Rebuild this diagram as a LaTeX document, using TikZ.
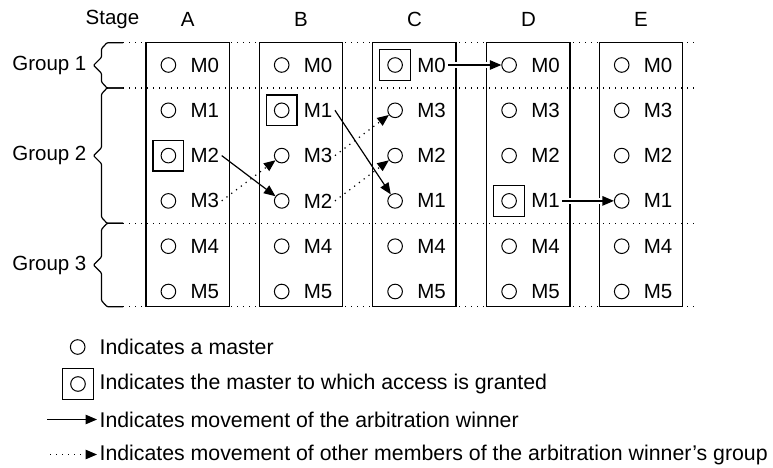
\documentclass[tikz,border=0pt]{standalone}
\usepackage{fontspec}
\setmainfont{Liberation Sans}
\usetikzlibrary{arrows.meta}

\begin{document}
\begin{tikzpicture}[x=1pt, y=-1pt, line width=1.2pt,
	every node/.style={font=\fontsize{20.5}{24}\selectfont},
	master/.style={draw, circle, minimum size=14.6pt, inner sep=0pt, line width=1pt},
	granted/.style={draw, rectangle, minimum size=30.7pt, inner sep=0pt},
	mlabel/.style={anchor=west, inner sep=2pt},
	stagebox/.style={draw, line width=1.3pt},
	grpline/.style={dash pattern=on 1.2pt off 4.8pt},
	gbrace/.style={line width=1.2pt, rounded corners=1pt},
	winner/.style={-{Triangle[length=11.5pt, width=9.5pt]}},
	gap/.style={preaction={draw=white, line width=6pt, -, shorten >=12pt}},
	others/.style={winner, dash pattern=on 1.2pt off 4.8pt},
	keytext/.style={anchor=west, inner sep=2pt, font=\fontsize{21.3}{25}\selectfont}]
	
	\useasboundingbox (0,0) rectangle (773,468);
	
	% --- group boundaries ---
	\foreach \y in {42.7, 88, 223.3, 306.7} {
		\draw[grpline] (123,\y) -- (698,\y);
	}
	
	% --- group braces and names ---
	\node (stage-h) at (112.5,19.3) {Stage};
	\foreach \ya/\yb/\g in {42.7/88/1, 88/223.3/2, 223.3/306.7/3} {
		\pgfmathsetmacro\ym{(\ya+\yb)/2}
		\draw[gbrace] (123,\ya) -- (107,\ya) -- (101.5,\ya+6) -- (101.5,\ym-8)
			-- (93.5,\ym) -- (101.5,\ym+8) -- (101.5,\yb-6) -- (107,\yb) -- (123,\yb);
		\node[anchor=east, inner sep=2pt] (grp-\g) at (89,\ym) {Group \g};
	}
	
	% --- stages: order of M1..M3 changes from stage to stage ---
	\foreach \c/\xl/\ma/\mb/\mc in {A/146/1/2/3, B/259.3/1/3/2, C/372.7/3/2/1,
		D/486.7/3/2/1, E/599.3/3/2/1} {
		\draw[stagebox] (\xl,42.7) rectangle +(83.3,264);
		\node (\c-h) at (\xl+41.7,19.3) {\c};
		\foreach \r/\y/\m in {0/65/0, 1/110.3/\ma, 2/155.6/\mb, 3/200.9/\mc,
			4/246.2/4, 5/291.5/5} {
			\node[master] (\c-\r) at (\xl+22.4,\y) {};
			\node[mlabel] (\c-\r-l) at (\xl+42,\y) {M\m};
		}
	}
	
	% granted masters
	\node[granted] (A-2-g) at (A-2) {};
	\node[granted] (B-1-g) at (B-1) {};
	\node[granted] (C-0-g) at (C-0) {};
	\node[granted] (D-3-g) at (D-3) {};
	
	% winner moves
	\draw[winner] (A-2-l.east) -- (B-3);
	\draw[winner] (B-1-l.east) -- (C-3);
	\draw[winner, gap] (C-0-l.east) -- (D-0);
	\draw[winner, gap] (D-3-l.east) -- (E-3);
	
	% rest of the winner's group moves up
	\draw[others] (A-3-l.east) -- (B-2);
	\draw[others] (B-3-l.east) -- (C-2);
	\draw[others] (B-2-l.east) -- (C-1);
	
	% --- key ---
	\node[master] (key-m) at (77.7,347) {};
	\node[keytext] (key-m-t) at (97,347) {Indicates a master};
	\node[master] (key-g) at (78,384) {};
	\node[granted] (key-g-b) at (key-g) {};
	\node[keytext] (key-g-t) at (97,384) {Indicates the master to which access is granted};
	\coordinate (key-w-s) at (47,419.5);
	\node[keytext] (key-w-t) at (97,419.5) {Indicates movement of the arbitration winner};
	\draw[winner] (key-w-s) -- (key-w-t.west);
	\coordinate (key-o-s) at (50,454.5);
	\node[keytext] (key-o-t) at (97,454.5) {Indicates movement of other members of the arbitration winner’s group};
	\draw[others] (key-o-s) -- (key-o-t.west);
\end{tikzpicture}
\end{document}
